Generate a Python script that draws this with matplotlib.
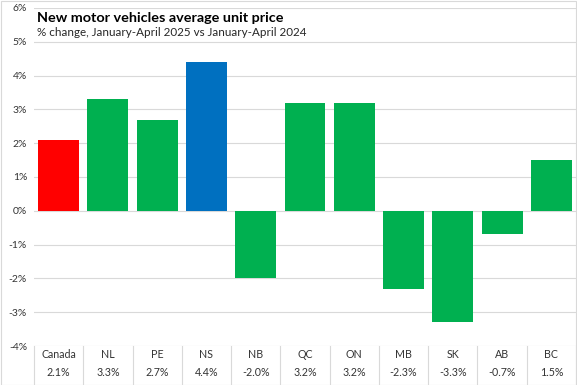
import matplotlib
matplotlib.use("Agg")
import matplotlib.pyplot as plt
from matplotlib.transforms import blended_transform_factory
from matplotlib.patches import Rectangle

categories = ["Canada", "NL", "PE", "NS", "NB", "QC", "ON", "MB", "SK", "AB", "BC"]
values = [2.1, 3.3, 2.7, 4.4, -2.0, 3.2, 3.2, -2.3, -3.3, -0.7, 1.5]
value_labels = ["2.1%", "3.3%", "2.7%", "4.4%", "-2.0%", "3.2%", "3.2%", "-2.3%", "-3.3%", "-0.7%", "1.5%"]
yticks = [-4, -3, -2, -1, 0, 1, 2, 3, 4, 5, 6]
ytick_labels = ["-4%", "-3%", "-2%", "-1%", "0%", "1%", "2%", "3%", "4%", "5%", "6%"]

colors = []
for c in categories:
    if c == "Canada":
        colors.append("#FF0000")
    elif c == "NS":
        colors.append("#0070C0")
    else:
        colors.append("#00B050")

plt.rcParams['font.family'] = ['Lato', 'DejaVu Sans']
W, H = 577, 385
fig = plt.figure(figsize=(W / 100, H / 100), dpi=100)
ax = fig.add_axes([34 / W, 1 - 346 / H, (576 - 34) / W, (346 - 8) / H])

x = list(range(len(categories)))
ax.bar(x, values, width=0.83, color=colors, zorder=3)
ax.set_xlim(-0.5, len(categories) - 0.5)
ax.set_ylim(-4, 6)
ax.set_yticks(yticks)
ax.set_yticklabels(ytick_labels, fontsize=7.5, color="#333333")
ax.tick_params(axis="y", length=0, pad=5)
ax.set_xticks([])
ax.grid(axis="y", color="#D9D9D9", linewidth=0.8, zorder=0)
for s in ax.spines.values():
    s.set_visible(False)

trans = blended_transform_factory(ax.transData, ax.transAxes)
ax_h_px = 346 - 8
for i, (c, v) in enumerate(zip(categories, value_labels)):
    ax.text(i, -(355 - 346) / ax_h_px, c, transform=trans, ha="center", va="center",
            fontsize=7.7, color="#333333", clip_on=False)
    ax.text(i, -(373 - 346) / ax_h_px, v, transform=trans, ha="center", va="center",
            fontsize=7.7, color="#333333", clip_on=False)
for b in range(len(categories) + 1):
    ax.plot([b - 0.5, b - 0.5], [0, -(384 - 346) / ax_h_px], transform=trans,
            color="#D9D9D9", linewidth=0.8, clip_on=False)

fig.text(37 / W, 1 - 18 / H, "New motor vehicles average unit price", fontsize=10.4,
         fontweight="bold", color="#000000", ha="left", va="center")
fig.text(37 / W, 1 - 33 / H, "% change, January-April 2025 vs January-April 2024", fontsize=8.35,
         color="#262626", ha="left", va="center")

fig.patches.append(Rectangle((0.5 / W, 0.5 / H), (W - 1.5) / W, (H - 1.5) / H, transform=fig.transFigure,
                             fill=False, edgecolor="#D9D9D9", linewidth=0.8))

fig.savefig("out.png", dpi=100)
